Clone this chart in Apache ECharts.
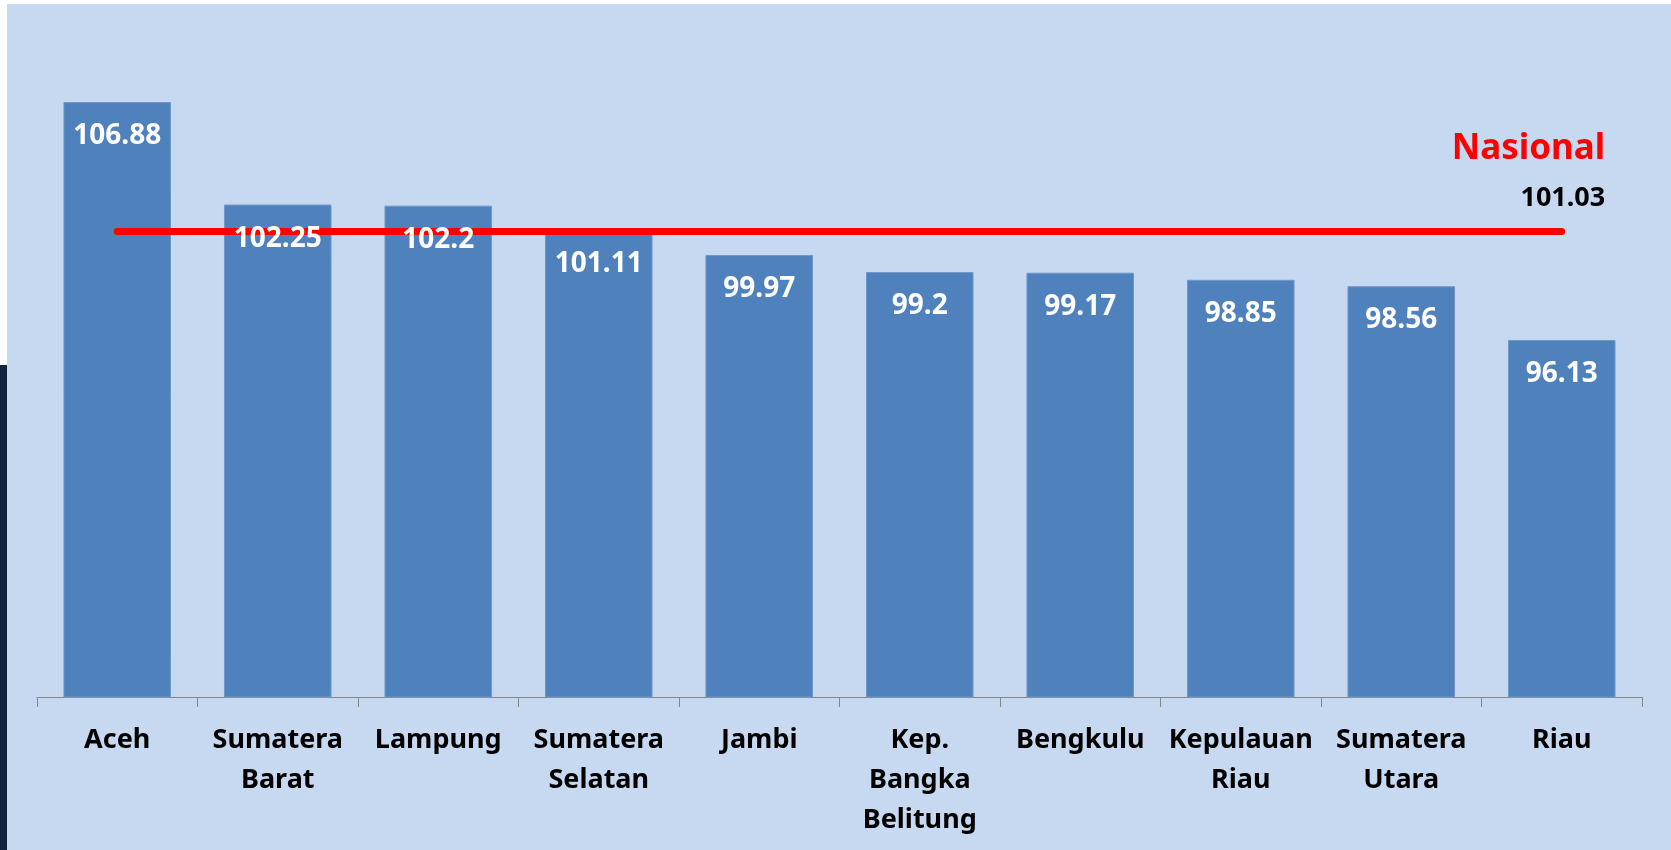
<!DOCTYPE html>
<html>
<head>
<meta charset="utf-8">
<script src="https://cdn.jsdelivr.net/npm/echarts@6/dist/echarts.min.js"></script>
<style>
  html, body { margin: 0; padding: 0; background: #ffffff; }
  #bg { position: absolute; left: 7px; top: 4px; right: 0; bottom: 0; background: #c6d9f0; }
  #strip { position: absolute; left: 0; top: 365px; width: 7px; bottom: 0; background: #12233f; }
  #main { position: absolute; left: 0; top: 0; width: 1671px; height: 850px; }
</style>
</head>
<body>
<div id="bg"></div>
<div id="strip"></div>
<div id="main"></div>
<script>
// data
var provinsi = ["Aceh", "Sumatera\nBarat", "Lampung", "Sumatera\nSelatan", "Jambi",
  "Kep.\nBangka\nBelitung", "Bengkulu", "Kepulauan\nRiau", "Sumatera\nUtara", "Riau"];
var nilai = [106.88, 102.25, 102.2, 101.11, 99.97, 99.2, 99.17, 98.85, 98.56, 96.13];
var nasional = 101.03;
var garisNasional = provinsi.map(function () { return nasional; });

var myChart = echarts.init(document.getElementById("main"));
var fontUtama = "Noto Sans";

var option = {
  backgroundColor: "transparent",
  animation: false,
  grid: { left: 37, right: 29, top: 33, bottom: 153 },
  xAxis: {
    type: "category",
    data: provinsi,
    axisLine: { lineStyle: { color: "#868686", width: 1 } },
    axisTick: { show: true, interval: 0, length: 10, lineStyle: { color: "#868686" } },
    axisLabel: {
      interval: 0,
      margin: 23,
      color: "#000",
      fontFamily: fontUtama,
      fontWeight: "bold",
      fontSize: 27,
      lineHeight: 40
    }
  },
  yAxis: {
    type: "value",
    min: 80,
    max: 110,
    show: false,
    splitLine: { show: false }
  },
  series: [
    {
      // batang
      name: "nilai",
      type: "bar",
      data: nilai,
      barCategoryGap: "33%",
      itemStyle: { color: "#4f81bd", borderColor: "#6f98c9", borderWidth: 1 },
      z: 2
    },
    {
      // garis nasional
      name: "Nasional",
      type: "line",
      data: garisNasional,
      symbol: "none",
      lineStyle: { color: "#ff0000", width: 7, cap: "round" },
      z: 3,
      markPoint: {
        symbol: "circle",
        symbolSize: 1,
        itemStyle: { color: "rgba(0,0,0,0)" },
        data: [{ coord: [provinsi.length - 1, nasional] }],
        label: {
          show: true,
          position: [44, -15],
          align: "right",
          verticalAlign: "bottom",
          formatter: "{n|Nasional}\n{v|" + nasional.toFixed(2) + "}",
          rich: {
            n: { color: "#ff0000", fontFamily: fontUtama, fontWeight: "bold", fontSize: 35, lineHeight: 62, align: "right" },
            v: { color: "#000", fontFamily: fontUtama, fontWeight: "bold", fontSize: 27, lineHeight: 36, align: "right" }
          }
        }
      }
    },
    {
      // label angka di atas garis
      name: "label",
      type: "bar",
      data: nilai,
      barGap: "-100%",
      barCategoryGap: "33%",
      itemStyle: { color: "rgba(0,0,0,0)" },
      label: {
        show: true,
        position: "insideTop",
        distance: 20,
        color: "#fff",
        fontFamily: fontUtama,
        fontWeight: "bold",
        fontSize: 28
      },
      z: 4
    }
  ]
};
myChart.setOption(option);
</script>
</body>
</html>
